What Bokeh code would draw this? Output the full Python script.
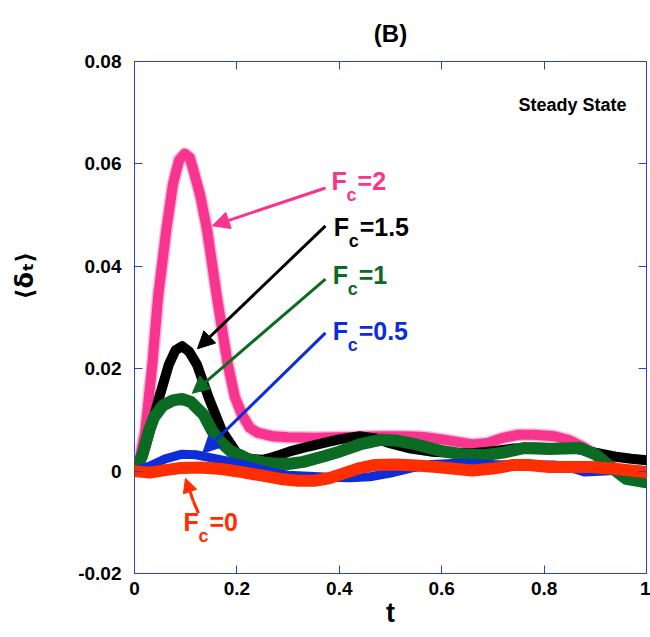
import math
from bokeh.plotting import figure
from bokeh.models import Range1d, LinearAxis, FixedTicker, Arrow, NormalHead, Label, ColumnDataSource
from bokeh.core.properties import value
from bokeh.embed import file_html
from bokeh.resources import INLINE

# ---------------- data ----------------
t_fc2 = [0, 0.008, 0.021, 0.035, 0.046, 0.062, 0.075, 0.087, 0.098, 0.108, 0.113, 0.128, 0.142,
         0.161, 0.182, 0.196, 0.21, 0.225, 0.24, 0.27, 0.30, 0.35, 0.40, 0.44, 0.48, 0.52, 0.56,
         0.60, 0.63, 0.66, 0.69, 0.72, 0.75, 0.78, 0.82, 0.85, 0.88, 0.91, 0.94, 0.97, 1.0]
v_fc2 = [0, 0.0013, 0.0078, 0.021, 0.034, 0.047, 0.056, 0.0607, 0.062, 0.0612, 0.0595, 0.054, 0.047,
         0.034, 0.021, 0.0145, 0.011, 0.0085, 0.0075, 0.0068, 0.0066, 0.0065, 0.0066, 0.0067, 0.0068,
         0.0068, 0.0067, 0.0062, 0.0057, 0.0052, 0.0055, 0.0065, 0.0071, 0.0071, 0.0068, 0.006,
         0.0045, 0.0025, 0.0005, -0.0003, -0.0005]

t_fc15 = [0, 0.01, 0.021, 0.035, 0.048, 0.067, 0.08, 0.093, 0.107, 0.122, 0.145, 0.171, 0.2, 0.225,
          0.25, 0.266, 0.285, 0.305, 0.34, 0.37, 0.40, 0.44, 0.47, 0.50, 0.54, 0.58, 0.62, 0.66,
          0.70, 0.74, 0.78, 0.82, 0.86, 0.90, 0.94, 0.97, 1.0]
v_fc15 = [0, 0.0015, 0.0046, 0.0095, 0.0143, 0.0208, 0.0236, 0.0244, 0.0233, 0.0208, 0.0143, 0.0078,
          0.0035, 0.0024, 0.0022, 0.0026, 0.0032, 0.0039, 0.0048, 0.0055, 0.0062, 0.0068, 0.0064,
          0.0054, 0.0044, 0.0038, 0.0036, 0.0035, 0.0039, 0.0044, 0.0046, 0.0045, 0.0044, 0.0036,
          0.0028, 0.0024, 0.0021]

t_fc1 = [0, 0.015, 0.028, 0.038, 0.055, 0.075, 0.093, 0.11, 0.135, 0.152, 0.17, 0.1875, 0.207, 0.22,
         0.25, 0.272, 0.30, 0.33, 0.37, 0.40, 0.44, 0.48, 0.51, 0.55, 0.60, 0.64, 0.683, 0.72, 0.76,
         0.81, 0.87, 0.90, 0.93, 0.96, 1.0]
v_fc1 = [0, 0.003, 0.0078, 0.0105, 0.0128, 0.0138, 0.0141, 0.0135, 0.011, 0.0078, 0.0055, 0.0039,
         0.0031, 0.0024, 0.0017, 0.0015, 0.0014, 0.0018, 0.0029, 0.0038, 0.0052, 0.0061, 0.006,
         0.0052, 0.0039, 0.0033, 0.0031, 0.0036, 0.0045, 0.0043, 0.0045, 0.0033, 0.0008, -0.0015,
         -0.0022]

t_fc05 = [0, 0.03, 0.06, 0.093, 0.12, 0.15, 0.18, 0.21, 0.24, 0.27, 0.30, 0.34, 0.38, 0.42, 0.46,
          0.50, 0.54, 0.58, 0.62, 0.66, 0.70, 0.74, 0.78, 0.82, 0.86, 0.88, 0.92, 0.96, 1.0]
v_fc05 = [0, 0.001, 0.0024, 0.0033, 0.0032, 0.0026, 0.002, 0.0013, 0.0005, -0.0002, -0.0008, -0.001,
          -0.0012, -0.0013, -0.0011, -0.0004, 0.0006, 0.0013, 0.0015, 0.0015, 0.0013, 0.0012, 0.0012,
          0.0012, 0.0004, -0.0002, 0.0, 0.0003, 0.0001]

t_fc0 = [0, 0.03, 0.06, 0.09, 0.13, 0.17, 0.21, 0.25, 0.29, 0.32, 0.35, 0.38, 0.41, 0.44, 0.47, 0.51,
         0.55, 0.59, 0.63, 0.66, 0.70, 0.74, 0.77, 0.81, 0.85, 0.89, 0.93, 0.97, 1.0]
v_fc0 = [0, -0.0003, 0.0002, 0.0006, 0.0007, 0.0004, -0.0002, -0.0009, -0.0016, -0.0019, -0.0019,
         -0.0014, -0.0004, 0.0006, 0.0012, 0.0013, 0.0011, 0.0008, 0.0004, 0.0001, 0.0005, 0.0012,
         0.0012, 0.0008, 0.0008, 0.0008, 0.0005, 0.0001, -0.0002]

x_ticks = [0, 0.2, 0.4, 0.6, 0.8, 1.0]
x_tick_labels = ["0", "0.2", "0.4", "0.6", "0.8", "1"]
y_ticks = [-0.02, 0, 0.02, 0.04, 0.06, 0.08]
y_tick_labels = ["-0.02", "0", "0.02", "0.04", "0.06", "0.08"]

label_values = ["=2", "=1.5", "=1", "=0.5", "=0"]

# ---------------- styles / layout ----------------
PINK = "#F7348E"
BLACK = "#000000"
GREEN = "#0B6B22"
BLUE = "#0D2DD9"
RED = "#FF2E00"
FRAME = "#2B3FE0"
FONT = "Liberation Sans"

Y_PER_PX = 0.1 / 512   # data units per screen pixel (vertical)

series = [
    (t_fc2, v_fc2, PINK, 10),
    (t_fc15, v_fc15, BLACK, 10),
    (t_fc1, v_fc1, GREEN, 12),
    (t_fc05, v_fc05, BLUE, 9),
    (t_fc0, v_fc0, RED, 12),
]
label_colors = [PINK, BLACK, GREEN, BLUE, RED]
# annotation anchor positions (data units): left/baseline of the "F"
label_x = [0.385, 0.389, 0.387, 0.387, 0.0957]
label_y = [0.0566, 0.0476, 0.0383, 0.0273, -0.0100]
sub_y = [y - 14 * Y_PER_PX for y in label_y]
# arrows (data units)
arrow_x0 = [0.373, 0.373, 0.373, 0.373, 0.115]
arrow_y0 = [0.0553, 0.0479, 0.0375, 0.0270, -0.0059]
arrow_x1 = [0.152, 0.123, 0.113, 0.133, 0.0996]
arrow_y1 = [0.0479, 0.0239, 0.0152, 0.0035, -0.0014]
red_kink_x = [0.125, 0.115]
red_kink_y = [-0.0082, -0.0059]

p = figure(frame_width=512, frame_height=512,
           x_range=Range1d(0, 1), y_range=Range1d(-0.02, 0.08),
           output_backend="svg", toolbar_location=None,
           min_border_left=134, min_border_right=4, min_border_top=61, min_border_bottom=60)
p.background_fill_color = "white"
p.border_fill_color = "white"
p.grid.visible = False
p.outline_line_color = FRAME
p.outline_line_width = 1

p.title.text = "(B)"
p.title.align = "center"
p.title.offset = 5
p.title.text_font = FONT
p.title.text_font_style = "bold"
p.title.text_font_size = "24px"
p.title.text_color = "black"
p.title.standoff = 30


def style_axis(ax):
    ax.axis_line_color = None
    ax.major_tick_line_color = FRAME
    ax.major_tick_in = 8
    ax.major_tick_out = 0
    ax.minor_tick_line_color = None
    ax.major_label_text_font = FONT
    ax.major_label_text_font_style = "bold"
    ax.major_label_text_font_size = "19px"
    ax.major_label_text_color = "black"
    ax.axis_label_text_font_style = "bold"
    ax.axis_label_text_color = "black"


p.xaxis.ticker = FixedTicker(ticks=x_ticks)
p.xaxis.major_label_overrides = dict(zip(x_ticks, x_tick_labels))
p.yaxis.ticker = FixedTicker(ticks=y_ticks)
p.yaxis.major_label_overrides = dict(zip(y_ticks, y_tick_labels))
style_axis(p.xaxis[0])
style_axis(p.yaxis[0])
p.xaxis.major_label_standoff = 8
p.yaxis.major_label_standoff = 13

p.xaxis.axis_label = "t"
p.xaxis.axis_label_text_font = FONT
p.xaxis.axis_label_text_font_size = "27px"
p.xaxis.axis_label_standoff = 0

# leading no-break spaces shift the centred label upward, as in the reference
p.yaxis.axis_label = "\u00a0" * 10 + "⟨δₜ⟩"
p.yaxis.axis_label_text_font = "DejaVu Sans"
p.yaxis.axis_label_text_font_size = "24px"
p.yaxis.axis_label_standoff = 36

top_axis = LinearAxis(ticker=FixedTicker(ticks=x_ticks))
style_axis(top_axis)
top_axis.major_label_overrides = {t: "" for t in x_ticks}
top_axis.major_label_standoff = 0
right_axis = LinearAxis(ticker=FixedTicker(ticks=y_ticks))
style_axis(right_axis)
right_axis.major_label_overrides = {t: "" for t in y_ticks}
right_axis.major_label_standoff = 0
p.add_layout(top_axis, "above")
p.add_layout(right_axis, "right")

# curves
for tx, vy, col, lw in series:
    if col == PINK:
        p.line(tx, vy, line_color=col, line_width=lw + 3, line_alpha=0.35,
               line_join="round", line_cap="round")
    p.line(tx, vy, line_color=col, line_width=lw, line_join="round", line_cap="round")

# arrows
for i, col in enumerate(label_colors):
    p.add_layout(Arrow(x_start=arrow_x0[i], y_start=arrow_y0[i], x_end=arrow_x1[i], y_end=arrow_y1[i],
                       line_color=col, line_width=3,
                       end=NormalHead(size=17 if i < 4 else 14, fill_color=col, line_color=col,
                                      line_width=1)))
p.line(red_kink_x, red_kink_y, line_color=RED, line_width=3)

# labels F_c = ...
src = ColumnDataSource(dict(x=label_x, y=label_y, ys=sub_y, c=label_colors, v=label_values,
                            f=["F"] * 5, s=["c"] * 5))
p.text(x="x", y="y", text="f", text_color="c", source=src, text_font=value(FONT),
       text_font_style="bold", text_font_size="25px", text_baseline="alphabetic")
p.text(x="x", y="ys", text="s", text_color="c", source=src, text_font=value(FONT),
       text_font_style="bold", text_font_size="18px", text_baseline="alphabetic",
       x_offset=15)
p.text(x="x", y="y", text="v", text_color="c", source=src, text_font=value(FONT),
       text_font_style="bold", text_font_size="25px", text_baseline="alphabetic", x_offset=26)

p.add_layout(Label(x=0.961, y=0.0716, text="Steady State", text_align="right",
                   text_baseline="alphabetic", text_font=FONT, text_font_style="bold",
                   text_font_size="18px", text_color="black"))

open("out.html", "w").write(file_html(p, INLINE))
